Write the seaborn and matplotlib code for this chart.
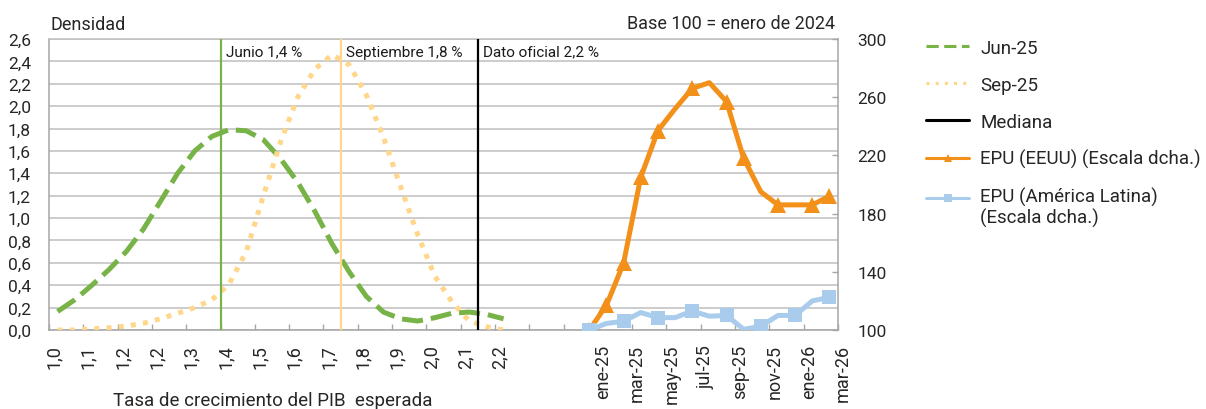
import numpy as np
import matplotlib
matplotlib.use("Agg")
import matplotlib.pyplot as plt
import matplotlib.transforms as mtransforms
from matplotlib.lines import Line2D
import seaborn as sns

# ---------------- data ----------------
gdp_labels = ['1,0', '1,1', '1,2', '1,2', '1,3', '1,4', '1,5', '1,6', '1,7',
              '1,8', '1,9', '2,0', '2,1', '2,2']
jun25 = [0.165, 0.27, 0.40, 0.54, 0.70, 0.90, 1.15, 1.40, 1.60, 1.73, 1.79,
         1.78, 1.70, 1.53, 1.32, 1.06, 0.77, 0.52, 0.30, 0.16, 0.10, 0.08,
         0.11, 0.15, 0.16, 0.14, 0.10]
sep25 = [0.0, 0.0, 0.01, 0.02, 0.035, 0.06, 0.10, 0.15, 0.20, 0.27, 0.41,
         0.70, 1.20, 1.68, 2.08, 2.33, 2.46, 2.37, 2.10, 1.72, 1.28, 0.85,
         0.48, 0.25, 0.08, 0.03, 0.0]
median_slots = [10, 17, 25]
median_labels = ['Junio 1,4 %', 'Septiembre 1,8 %', 'Dato oficial 2,2 %']

months = ['ene-25', 'feb-25', 'mar-25', 'abr-25', 'may-25', 'jun-25', 'jul-25',
          'ago-25', 'sep-25', 'oct-25', 'nov-25', 'dic-25', 'ene-26', 'feb-26',
          'mar-26']
epu_us = [100, 117, 146, 205, 237, 252, 266, 270, 257, 218, 195, 186, 186, 186, 192]
epu_latam = [100, 104.5, 106, 112, 108.5, 108.5, 113, 109.5, 110, 100.5, 102.5,
             110, 110, 120, 122.5]
us_marker_idx = [0, 1, 2, 3, 4, 6, 8, 9, 11, 13, 14]
latam_marker_idx = [0, 2, 4, 6, 8, 10, 12, 14]

GAP = 4  # empty categories between both blocks

# ---------------- style ----------------
sns.set_theme(style="white")
plt.rcParams['font.family'] = ['Roboto', 'DejaVu Sans']

GREEN = '#77B347'
YELLOW = '#FFD68A'
ORANGE = '#F2901A'
BLUE = '#A9CCEC'
GRID = '#BFBFBF'
SPINE = '#A6A6A6'
FS = 12.5

fig = plt.figure(figsize=(12.06, 4.10), dpi=100)
ax = fig.add_axes([49 / 1206, 1 - 331 / 410, (838 - 49) / 1206, (331 - 40) / 410])
ax2 = ax.twinx()

n_d = len(jun25)
x_d = np.arange(n_d) + 0.5
x_m = n_d + GAP + np.arange(len(months)) + 0.5
n_total = n_d + GAP + len(months)

# density curves
sns.lineplot(x=x_d, y=jun25, ax=ax, color=GREEN, linewidth=3.6, zorder=3)
ax.lines[-1].set_linestyle((0, (4.2, 1.6)))
ax.lines[-1].set_dash_capstyle('butt')
sns.lineplot(x=x_d, y=sep25, ax=ax, color=YELLOW, linewidth=3.6, zorder=4)
ax.lines[-1].set_linestyle((0, (1.0, 1.45)))
ax.lines[-1].set_dash_capstyle('butt')

# median lines
for pos, lab, col in zip(median_slots, median_labels, [GREEN, YELLOW, 'black']):
    ax.axvline(pos, color=col, linewidth=1.6, zorder=5)
    ax.annotate(lab, xy=(pos, 2.6), xytext=(4, -9), textcoords='offset points',
                ha='left', va='center', fontsize=11, color='#1a1a1a')

# EPU series (right axis)
sns.lineplot(x=x_m, y=epu_us, ax=ax2, color=ORANGE, linewidth=3.6,
             marker='^', markersize=11, markeredgewidth=0,
             markevery=us_marker_idx, zorder=3)
sns.lineplot(x=x_m, y=epu_latam, ax=ax2, color=BLUE, linewidth=3.6,
             marker='s', markersize=10, markeredgewidth=0,
             markevery=latam_marker_idx, zorder=4)

# axes limits / ticks
ax.set_xlim(0, n_total)
ax.set_ylim(0, 2.6)
ax2.set_ylim(100, 300)

yt = np.round(np.arange(0, 2.61, 0.2), 1)
ax.set_yticks(yt)
ax.set_yticklabels([f'{v:.1f}'.replace('.', ',') for v in yt], fontsize=FS)
ax2.set_yticks(np.arange(100, 301, 40))
ax2.set_yticklabels([str(v) for v in range(100, 301, 40)], fontsize=FS)

xt = np.arange(0, n_total + 1, 2)
xl = gdp_labels + ['', ''] + months[::2]
ax.set_xticks(xt[:len(xl)])
ax.set_xticklabels(xl, rotation=90, fontsize=13)
ax.set_xlabel('')
ax.set_ylabel('')
ax2.set_ylabel('')

ax.grid(axis='y', color=GRID, linewidth=1.1)
ax.grid(axis='x', visible=False)
ax.set_axisbelow(True)

ax.tick_params(axis='x', direction='in', length=4, width=1, color=SPINE,
               pad=10, bottom=True)
ax.tick_params(axis='y', length=0, pad=13)
ax2.tick_params(axis='y', direction='in', length=4, width=1, color=SPINE,
                pad=14, right=True)

offset = mtransforms.ScaledTranslation(5 / 100, 0, fig.dpi_scale_trans)
for lab in ax.get_xticklabels():
    lab.set_transform(lab.get_transform() + offset)

for sp in ['left', 'bottom']:
    ax.spines[sp].set_color(SPINE)
    ax.spines[sp].set_linewidth(1.1)
ax.spines['top'].set_color(GRID)
ax.spines['top'].set_linewidth(1.1)
ax.spines['right'].set_visible(False)
for sp in ['left', 'bottom', 'top']:
    ax2.spines[sp].set_visible(False)
ax2.spines['right'].set_color(SPINE)
ax2.spines['right'].set_linewidth(1.1)

# texts
fig.text(50 / 1206, 1 - 25 / 410, 'Densidad', ha='left', va='center', fontsize=13)
fig.text(835 / 1206, 1 - 24 / 410, 'Base 100 = enero de 2024', ha='right',
         va='center', fontsize=13)
fig.text(273 / 1206, 1 - 401 / 410, 'Tasa de crecimiento del PIB  esperada',
         ha='center', va='center', fontsize=13.5)

# legend
handles = [
    Line2D([], [], color=GREEN, linewidth=2.2, linestyle=(0, (4, 1.8))),
    Line2D([], [], color=YELLOW, linewidth=2.2, linestyle=(0, (1, 2))),
    Line2D([], [], color='black', linewidth=2.2),
    Line2D([], [], color=ORANGE, linewidth=2.2, marker='^', markersize=6,
           markeredgewidth=0),
    Line2D([], [], color=BLUE, linewidth=2.2, marker='s', markersize=6,
           markeredgewidth=0),
]
labels = ['Jun-25', 'Sep-25', 'Mediana', 'EPU (EEUU) (Escala dcha.)',
          'EPU (América Latina)\n(Escala dcha.)']
leg = fig.legend(handles, labels, loc='upper left',
                 bbox_to_anchor=(926 / 1206, 1 - 40 / 410), frameon=False,
                 fontsize=13.5, handlelength=2.3, handletextpad=0.6,
                 labelspacing=1.0, borderpad=0, borderaxespad=0)
for t in leg.get_texts():
    t.set_linespacing(1.1)
# align the two-line entry's handle with its first text line
h = leg.legend_handles[4]
h.set_transform(h.get_transform() +
                mtransforms.ScaledTranslation(0, 10 / 100, fig.dpi_scale_trans))

fig.savefig('out.png', dpi=100)
